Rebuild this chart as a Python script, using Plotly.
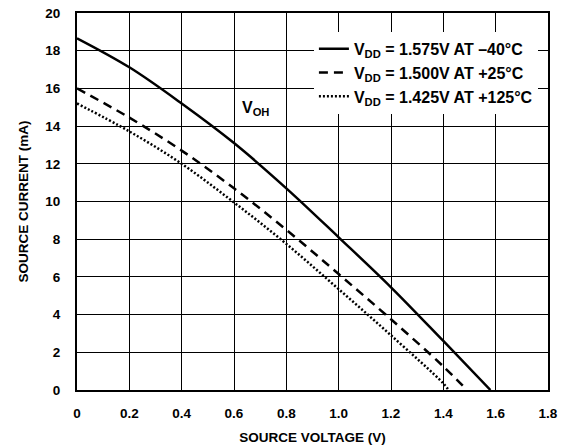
import plotly.graph_objects as go

# source voltage (V) / source current (mA)
v_cold = [0.0, 0.2, 0.4, 0.6, 0.8, 1.0, 1.2, 1.4, 1.58]
i_cold = [18.66, 17.12, 15.2, 13.1, 10.7, 8.1, 5.45, 2.6, 0.0]

v_room = [0.0, 0.2, 0.4, 0.6, 0.8, 1.0, 1.2, 1.4, 1.49]
i_room = [16.0, 14.45, 12.7, 10.7, 8.5, 6.15, 3.75, 1.25, 0.0]

v_hot = [0.0, 0.2, 0.4, 0.6, 0.8, 1.0, 1.2, 1.4, 1.42]
i_hot = [15.2, 13.72, 12.0, 9.95, 7.75, 5.35, 2.9, 0.35, 0.0]

names = ["V<sub>DD</sub> = 1.575V AT \u201340\u00b0C",
         "V<sub>DD</sub> = 1.500V AT +25\u00b0C",
         "V<sub>DD</sub> = 1.425V AT +125\u00b0C"]

x_ticks = [0, 0.2, 0.4, 0.6, 0.8, 1.0, 1.2, 1.4, 1.6, 1.8]
x_labels = ["0", "0.2", "0.4", "0.6", "0.8", "1.0", "1.2", "1.4", "1.6", "1.8"]
y_ticks = [0, 2, 4, 6, 8, 10, 12, 14, 16, 18, 20]

FAMILY = "Liberation Sans, Arial, sans-serif"
INK = "rgb(0,0,0)"

fig = go.Figure()
for xs, ys, name, dash in [(v_cold, i_cold, names[0], "solid"),
                           (v_room, i_room, names[1], "9px,6px"),
                           (v_hot, i_hot, names[2], "2px,2px")]:
    fig.add_trace(go.Scatter(x=xs, y=ys, name="<b>" + name + "</b>", mode="lines",
                             line=dict(color=INK, width=2.5, dash=dash, shape="spline")))

fig.add_annotation(x=0.684, y=14.95, text="<b>V<sub>OH</sub></b>", showarrow=False,
                   font=dict(family=FAMILY, size=16, color=INK))

fig.update_xaxes(range=[0, 1.8], tickvals=x_ticks, ticktext=["<b>%s</b>" % t for t in x_labels],
                 tickfont=dict(size=13.5), automargin=False,
                 showgrid=True, gridcolor=INK, gridwidth=1,
                 showline=True, linecolor=INK, linewidth=2, mirror=True,
                 zeroline=False, ticks="outside", ticklen=10, tickcolor="rgba(0,0,0,0)",
                 title=dict(text="<b>SOURCE VOLTAGE (V)</b>", standoff=12, font=dict(size=13.5)))
fig.update_yaxes(range=[0, 20], tickvals=y_ticks,
                 ticktext=["<b>%d</b>" % v for v in y_ticks],
                 tickfont=dict(size=13.5), automargin=False,
                 showgrid=True, gridcolor=INK, gridwidth=1,
                 showline=True, linecolor=INK, linewidth=2, mirror=True,
                 zeroline=False, ticks="outside", ticklen=12, tickcolor="rgba(0,0,0,0)",
                 title=dict(text="<b>SOURCE CURRENT (mA)</b>", standoff=14, font=dict(size=13.5)))

fig.update_layout(width=568, height=447,
                  margin=dict(l=77, r=20, t=13, b=57),
                  paper_bgcolor="white", plot_bgcolor="white",
                  font=dict(family=FAMILY, size=12, color=INK),
                  legend=dict(x=0.503, y=0.95, xanchor="left", yanchor="top",
                              bgcolor="white", borderwidth=0,
                              font=dict(family=FAMILY, size=16, color=INK),
                              tracegroupgap=0),
                  showlegend=True)

fig.write_html("out.html", config={"displayModeBar": False},
               post_script="document.body.style.margin='0';")
